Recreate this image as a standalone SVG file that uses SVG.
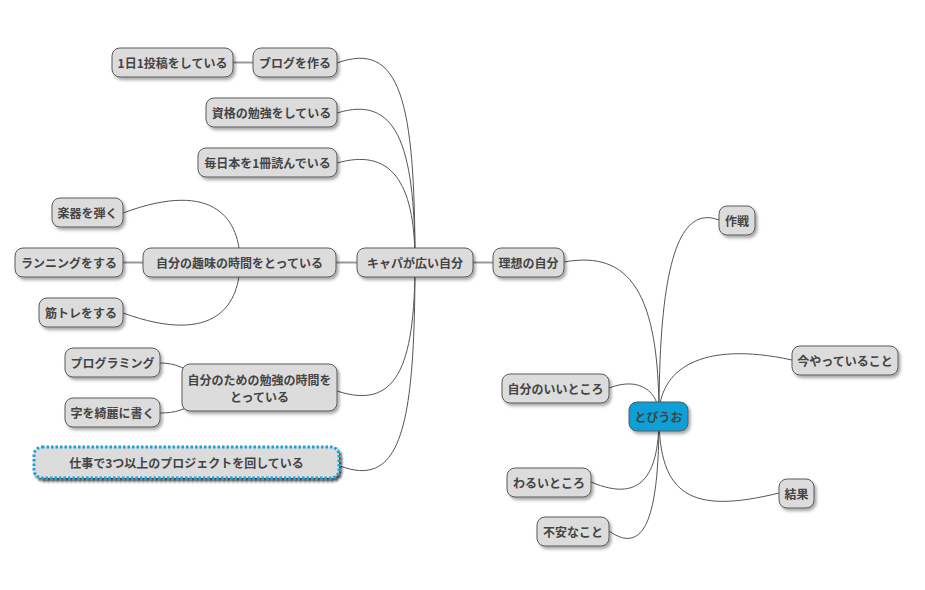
<svg xmlns="http://www.w3.org/2000/svg" width="925" height="590" viewBox="0 0 925 590">
<defs>
<filter id="sh" x="-20%" y="-30%" width="140%" height="170%">
<feDropShadow dx="2" dy="2.5" stdDeviation="1.5" flood-color="#000" flood-opacity="0.35"/>
</filter>
<filter id="sh2" x="-20%" y="-30%" width="140%" height="170%">
<feDropShadow dx="2" dy="2.5" stdDeviation="1" flood-color="#000" flood-opacity="0.75"/>
</filter>
</defs>
<style>
.n rect{fill:#dcdcdc;stroke:#5a5a5a;stroke-width:1;filter:url(#sh)}
.n text{font-family:"Noto Sans CJK JP","Noto Sans",sans-serif;font-size:12px;font-weight:bold;fill:#444;text-anchor:middle;dominant-baseline:central}
#root rect{fill:#0a9fd8}
#n21 rect{stroke:#1ea0d8;stroke-width:3;stroke-dasharray:2.5 2;filter:url(#sh2)}
.c path{fill:none;stroke:#555;stroke-width:1}
.c line{stroke:#999;stroke-width:2}
</style>
<rect width="925" height="590" fill="#fff"/>
<g id="connectors" class="c">
<line x1="233" y1="62.5" x2="253" y2="62.5"/>
<line x1="123" y1="262.5" x2="143" y2="262.5"/>
<line x1="336" y1="262.5" x2="357" y2="262.5"/>
<line x1="473" y1="262.5" x2="493" y2="262.5"/>
<path d="M337,63 C400,40 415,100 415,262"/>
<path d="M337,113 C395,95 415,141 415,262"/>
<path d="M337,163 C390,148 415,180 415,262"/>
<path d="M337,391 C395,410 415,370 415,262"/>
<path d="M340,466 C401,489 415,427 415,262"/>
<path d="M123,213 C217,178 240,222 240,262"/>
<path d="M123,313 C217,347 240,303 240,262"/>
<path d="M160,363 C175,363 185,368 200,378"/>
<path d="M160,413 C175,413 185,410 200,400"/>
<path d="M564,262 C630,250 659,293 659,416"/>
<path d="M719,220 C680,205 659,260 659,416"/>
<path d="M792,360 C700,340 659,370 659,416"/>
<path d="M609,388 C640,376 659,392 659,416"/>
<path d="M591,482 C645,505 659,470 659,416"/>
<path d="M609,531 C650,560 659,500 659,416"/>
<path d="M779,493 C690,515 659,495 659,416"/>
</g>
<g id="n1" class="n"><rect x="112" y="48" width="121" height="29" rx="8"/><text x="172.5" y="62.5">1日1投稿をしている</text></g>
<g id="n2" class="n"><rect x="253" y="48" width="84" height="29" rx="8"/><text x="295" y="62.5">ブログを作る</text></g>
<g id="n3" class="n"><rect x="206" y="98" width="131" height="29" rx="8"/><text x="271.5" y="112.5">資格の勉強をしている</text></g>
<g id="n4" class="n"><rect x="198" y="148" width="139" height="29" rx="8"/><text x="267.5" y="162.5">毎日本を1冊読んでいる</text></g>
<g id="n5" class="n"><rect x="52" y="198" width="71" height="29" rx="8"/><text x="87.5" y="212.5">楽器を弾く</text></g>
<g id="n6" class="n"><rect x="15" y="248" width="108" height="29" rx="8"/><text x="69" y="262.5">ランニングをする</text></g>
<g id="n7" class="n"><rect x="39" y="298" width="84" height="29" rx="8"/><text x="81" y="312.5">筋トレをする</text></g>
<g id="n8" class="n"><rect x="143" y="248" width="193" height="29" rx="8"/><text x="239.5" y="262.5">自分の趣味の時間をとっている</text></g>
<g id="n9" class="n"><rect x="357" y="248" width="116" height="29" rx="8"/><text x="415" y="262.5">キャパが広い自分</text></g>
<g id="n10" class="n"><rect x="493" y="248" width="71" height="29" rx="8"/><text x="528.5" y="262.5">理想の自分</text></g>
<g id="n11" class="n"><rect x="719" y="206" width="36" height="29" rx="8"/><text x="737" y="220.5">作戦</text></g>
<g id="n12" class="n"><rect x="792" y="346" width="106" height="29" rx="8"/><text x="845" y="360.5">今やっていること</text></g>
<g id="n13" class="n"><rect x="502" y="374" width="107" height="29" rx="8"/><text x="555.5" y="388.5">自分のいいところ</text></g>
<g id="root" class="n"><rect x="629" y="402" width="59" height="29" rx="8"/><text x="658.5" y="416.5">とびうお</text></g>
<g id="n15" class="n"><rect x="507" y="468" width="84" height="29" rx="8"/><text x="549" y="482.5">わるいところ</text></g>
<g id="n16" class="n"><rect x="779" y="479" width="35" height="29" rx="8"/><text x="796.5" y="493.5">結果</text></g>
<g id="n17" class="n"><rect x="537" y="517" width="72" height="29" rx="8"/><text x="573" y="531.5">不安なこと</text></g>
<g id="n18" class="n"><rect x="65" y="348" width="95" height="29" rx="8"/><text x="112.5" y="362.5">プログラミング</text></g>
<g id="n19" class="n"><rect x="182" y="364" width="155" height="47" rx="8"/><text x="259.5" y="379.5">自分のための勉強の時間を</text><text x="259.5" y="396">とっている</text></g>
<g id="n20" class="n"><rect x="65" y="398" width="95" height="29" rx="8"/><text x="112.5" y="412.5">字を綺麗に書く</text></g>
<g id="n21" class="n"><rect x="34" y="447" width="305" height="31" rx="8"/><text x="186.5" y="462.5">仕事で3つ以上のプロジェクトを回している</text></g>
</svg>
